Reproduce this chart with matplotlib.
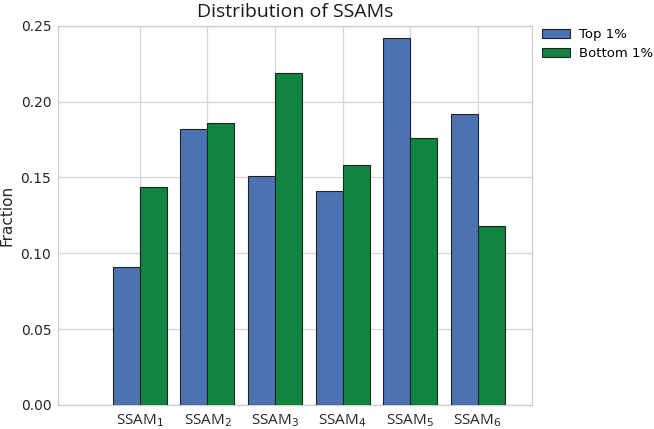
import matplotlib

matplotlib.use("Agg")
import matplotlib.pyplot as plt
import numpy as np

categories = ["SSAM$_{1}$", "SSAM$_{2}$", "SSAM$_{3}$", "SSAM$_{4}$", "SSAM$_{5}$", "SSAM$_{6}$"]
top_1pct = [0.091, 0.182, 0.151, 0.141, 0.242, 0.192]
bottom_1pct = [0.144, 0.186, 0.219, 0.158, 0.176, 0.118]
yticks = [0.00, 0.05, 0.10, 0.15, 0.20, 0.25]

fig, ax = plt.subplots(figsize=(6.54, 4.29), dpi=100)
fig.subplots_adjust(left=0.089, right=0.814, top=0.94, bottom=0.056)

x = np.arange(len(categories))
w = 0.4
ax.bar(x - w, top_1pct, w, align="edge", color="#4c72b0", edgecolor="#222222",
       linewidth=0.8, label="Top 1%", zorder=3)
ax.bar(x, bottom_1pct, w, align="edge", color="#0f8540", edgecolor="#222222",
       linewidth=0.8, label="Bottom 1%", zorder=3)

ax.set_xlim(-1.21, 5.81)
ax.set_ylim(0, 0.25)
ax.set_yticks(yticks)
ax.set_yticklabels([f"{v:.2f}" for v in yticks], fontsize=10, color="#262626")
ax.set_xticks(x)
ax.set_xticklabels(categories, fontsize=11, family="Open Sans", color="#262626")
ax.tick_params(length=0, pad=5)
ax.grid(True, color="#d5d5d5", linewidth=0.9, zorder=0)
for s in ax.spines.values():
    s.set_color("#cccccc")
    s.set_linewidth(0.9)

ax.set_ylabel("Fraction", fontsize=11, color="#262626")
ax.set_title("Distribution of SSAMs", fontsize=14, family="Open Sans", color="#1a1a1a")
ax.legend(loc="upper left", bbox_to_anchor=(1.012, 1.005), frameon=False, fontsize=9.5,
          handlelength=2.1, handletextpad=0.7, borderaxespad=0, borderpad=0.3)

fig.savefig("out.png", dpi=100)
